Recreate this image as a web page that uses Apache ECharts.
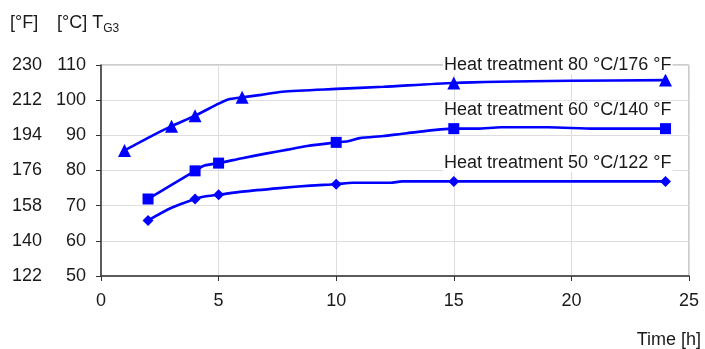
<!DOCTYPE html>
<html><head><meta charset="utf-8">
<script src="https://cdn.jsdelivr.net/npm/echarts@6/dist/echarts.min.js"></script>
<style>html,body{margin:0;padding:0;background:#fff}#c{width:705px;height:349px}</style>
</head><body><div id="c"></div>
<script>
// Data (hours vs glass transition temperature Tg3 in °C)
const hours80 = [1, 2, 3, 4, 5, 5.4, 6, 6.8, 7.7, 10, 12, 15, 20, 24];
const temp80  = [85.7, 89.3, 92.6, 95.6, 99.0, 100.2, 100.8, 101.5, 102.4, 103.2, 103.8, 104.9, 105.5, 105.7];
const marks80 = [1, 3, 4, 6, 15, 24];

const hours60 = [2, 3, 4, 4.4, 5, 6, 7, 8, 8.7, 10, 10.5, 11, 12, 13, 15, 16, 17, 19, 21, 24];
const temp60  = [71.9, 75.9, 79.9, 81.4, 82.1, 83.5, 84.8, 86.0, 86.9, 88.0, 88.3, 89.2, 89.8, 90.6, 91.9, 91.9, 92.3, 92.3, 91.9, 91.9];
const marks60 = [2, 4, 5, 10, 15, 24];

const hours50 = [2, 3, 4, 4.4, 5, 6, 7.6, 8.9, 10, 10.7, 12.3, 12.8, 15, 24];
const temp50  = [65.8, 69.4, 71.9, 72.6, 73.1, 74.0, 75.0, 75.7, 76.1, 76.5, 76.5, 76.9, 76.9, 76.9];
const marks50 = [2, 4, 5, 10, 15, 24];

const seriesNames = ['Heat treatment 80 °C/176 °F', 'Heat treatment 60 °C/140 °F', 'Heat treatment 50 °C/122 °F'];
const labelAnchorX = 24.3;
const labelAnchorY = [109.9, 97.3, 82.2];

const celsiusTicks    = ['50', '60', '70', '80', '90', '100', '110'];
const fahrenheitTicks = ['122', '140', '158', '176', '194', '212', '230'];
const xTicks = ['0', '5', '10', '15', '20', '25'];

const BLUE = '#0000ff';
const FONT = 'Liberation Sans, Arial, sans-serif';
const TXT = '#1a1a1a';
const FS = 18;

function mkSeries(hours, temps, marks, symbol, size, name, ay) {
  return {
    type: 'line', name: name,
    data: hours.map((h, i) => [h, temps[i]]),
    smooth: 0.25,
    symbol: symbol,
    symbolSize: (v) => marks.indexOf(v[0]) >= 0 ? size : 0,
    showAllSymbol: true,
    lineStyle: { color: BLUE, width: 2.6 },
    itemStyle: { color: BLUE },
    z: 3,
    markPoint: {
      symbol: 'circle', symbolSize: 0.1,
      itemStyle: { color: 'rgba(0,0,0,0)' },
      z: 10,
      data: [{ coord: [labelAnchorX, ay] }],
      label: {
        show: true, position: 'inside', align: 'right', verticalAlign: 'middle',
        formatter: name, color: TXT, fontSize: FS, fontFamily: FONT,
        backgroundColor: '#fff', padding: [0, 1]
      }
    }
  };
}

const chart = echarts.init(document.getElementById('c'), null, { renderer: 'canvas' });
chart.setOption({
  animation: false,
  backgroundColor: '#fff',
  grid: { left: 101, right: 16, top: 65, bottom: 73, show: true, borderColor: '#999', borderWidth: 1, backgroundColor: 'transparent' },
  xAxis: {
    type: 'value', min: 0, max: 25, interval: 5,
    axisLine: { show: true, lineStyle: { color: '#333', width: 1.5 } },
    axisTick: { show: true, length: 5, lineStyle: { color: '#333' } },
    axisLabel: { color: TXT, fontSize: FS, fontFamily: FONT, margin: 16, formatter: (v) => xTicks[v / 5] },
    splitLine: { show: true, lineStyle: { color: '#ddd', width: 1 } }
  },
  yAxis: [{
    type: 'value', min: 50, max: 110, interval: 10,
    axisLine: { show: true, lineStyle: { color: '#333', width: 1.5 } },
    axisTick: { show: true, length: 5, lineStyle: { color: '#333' } },
    axisLabel: { color: TXT, fontSize: FS, fontFamily: FONT, margin: 15, formatter: (v) => celsiusTicks[(v - 50) / 10] },
    splitLine: { show: true, lineStyle: { color: '#ddd', width: 1 } }
  }, {
    type: 'value', min: 50, max: 110, interval: 10, position: 'left',
    axisLine: { show: false }, axisTick: { show: false }, splitLine: { show: false },
    axisLabel: { color: TXT, fontSize: FS, fontFamily: FONT, margin: 59, formatter: (v) => fahrenheitTicks[(v - 50) / 10] }
  }],
  graphic: [
    { type: 'text', left: 10, top: 14, style: { text: '[°F]', fill: TXT, font: FS + 'px ' + FONT } },
    { type: 'text', left: 57, top: 14, style: { text: '[°C] T{s|G3}', fill: TXT, font: FS + 'px ' + FONT,
        rich: { s: { fontSize: 12, fontFamily: FONT, fill: TXT, padding: [11, 0, 0, 0] } } } },
    { type: 'text', right: 4, top: 331, style: { text: 'Time [h]', fill: TXT, font: FS + 'px ' + FONT } }
  ],
  series: [
    mkSeries(hours80, temp80, marks80, 'triangle', 13, seriesNames[0], labelAnchorY[0]),
    mkSeries(hours60, temp60, marks60, 'rect', 11, seriesNames[1], labelAnchorY[1]),
    mkSeries(hours50, temp50, marks50, 'diamond', 11, seriesNames[2], labelAnchorY[2])
  ]
});
</script></body></html>
